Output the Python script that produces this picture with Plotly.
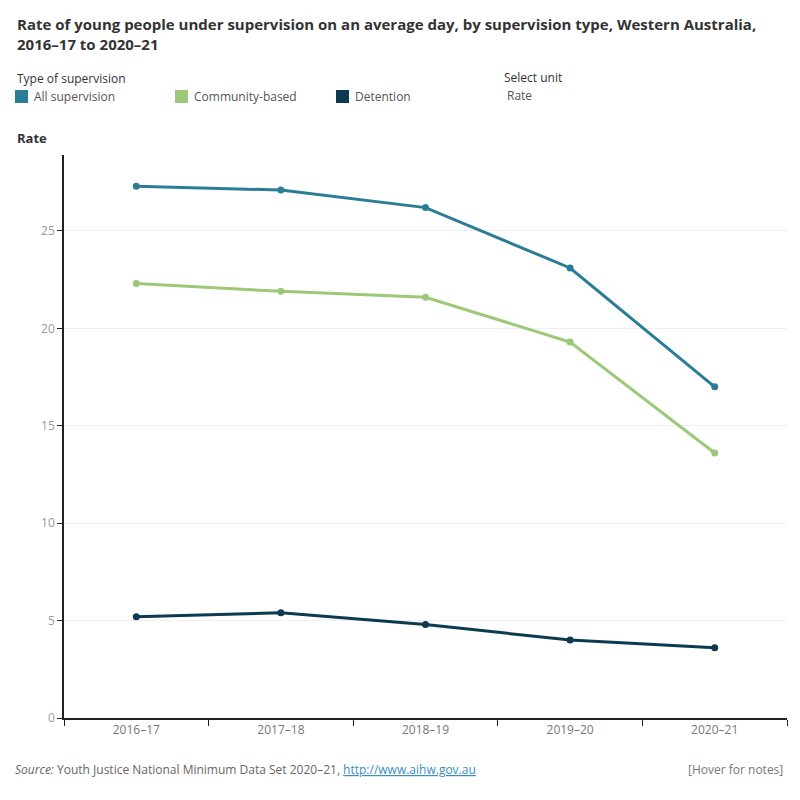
import plotly.graph_objects as go

years = ["2016–17", "2017–18", "2018–19", "2019–20", "2020–21"]
all_supervision = [27.3, 27.1, 26.2, 23.1, 17.0]
community_based = [22.3, 21.9, 21.6, 19.3, 13.6]
detention = [5.2, 5.4, 4.8, 4.0, 3.6]

series_names = ["All supervision", "Community-based", "Detention"]
series_values = [all_supervision, community_based, detention]
colors = ["#2b7d96", "#9cc878", "#0c3a50"]

FONT = "Open Sans"
W, H = 800, 800
ML, MR, MT, MB = 64, 13, 155, 82
PW, PH = W - ML - MR, H - MT - MB


def px_x(x):
    return (x - ML) / PW


def px_y(y):
    return (H - MB - y) / PH


fig = go.Figure()
for name, vals, col in zip(series_names, series_values, colors):
    fig.add_trace(go.Scatter(
        x=years, y=vals, name=name, mode="lines+markers",
        line=dict(color=col, width=3),
        marker=dict(color=col, size=7),
        showlegend=False,
        hovertemplate="%{x}<br>" + name + ": %{y}<extra></extra>",
    ))

fig.update_layout(
    width=W, height=H,
    margin=dict(l=ML, r=MR, t=MT, b=MB),
    paper_bgcolor="white", plot_bgcolor="white",
    font=dict(family=FONT, size=12, color="#555"),
    xaxis=dict(
        type="category", tickson="boundaries", range=[-0.5, 4.5],
        showline=True, linecolor="#222", linewidth=1.5,
        ticks="outside", ticklen=6, tickcolor="#222",
        tickfont=dict(size=12, color="#777"),
        showgrid=False, zeroline=False,
    ),
    yaxis=dict(
        range=[0, 28.9], tickvals=[0, 5, 10, 15, 20, 25],
        showline=True, linecolor="#222", linewidth=1.5,
        ticks="outside", ticklen=5, tickcolor="#222",
        tickfont=dict(size=12, color="#999"),
        showgrid=True, gridcolor="#efefef", gridwidth=1,
        zeroline=False,
    ),
)

ann = [
    dict(x=15, y=12, text="<b>Rate of young people under supervision on an average day, by supervision type, Western Australia,<br>2016–17 to 2020–21</b>",
         font=dict(size=15, color="#333")),
    dict(x=15, y=68, text="Type of supervision", font=dict(size=12, color="#333")),
    dict(x=502, y=67, text="Select unit", font=dict(size=12, color="#333")),
    dict(x=505, y=85, text="Rate", font=dict(size=12, color="#555")),
    dict(x=15, y=127, text="<b>Rate</b>", font=dict(size=13, color="#333")),
    dict(x=13, y=759, text="<i>Source:</i> Youth Justice National Minimum Data Set 2020–21, <a href='http://www.aihw.gov.au' style='color:#3a8fc0'><u>http://www.aihw.gov.au</u></a>",
         font=dict(size=12, color="#666")),
    dict(x=785, y=759, text="[Hover for notes]", font=dict(size=12, color="#777"), xanchor="right"),
]
leg_x = [15, 175, 336]
for lx, name, col in zip(leg_x, series_names, colors):
    fig.add_shape(type="rect", xref="paper", yref="paper",
                  x0=px_x(lx), x1=px_x(lx + 13),
                  y0=px_y(103), y1=px_y(90),
                  fillcolor=col, line=dict(width=0))
    ann.append(dict(x=lx + 17, y=86, text=name, font=dict(size=12, color="#555")))

for a in ann:
    xa = a.pop("xanchor", "left")
    fig.add_annotation(
        xref="paper", yref="paper",
        x=px_x(a["x"]), y=px_y(a["y"]),
        xanchor=xa, yanchor="top", align="left",
        showarrow=False, text=a["text"], font=dict(family=FONT, **a["font"]),
    )

fig.write_html("out.html")
